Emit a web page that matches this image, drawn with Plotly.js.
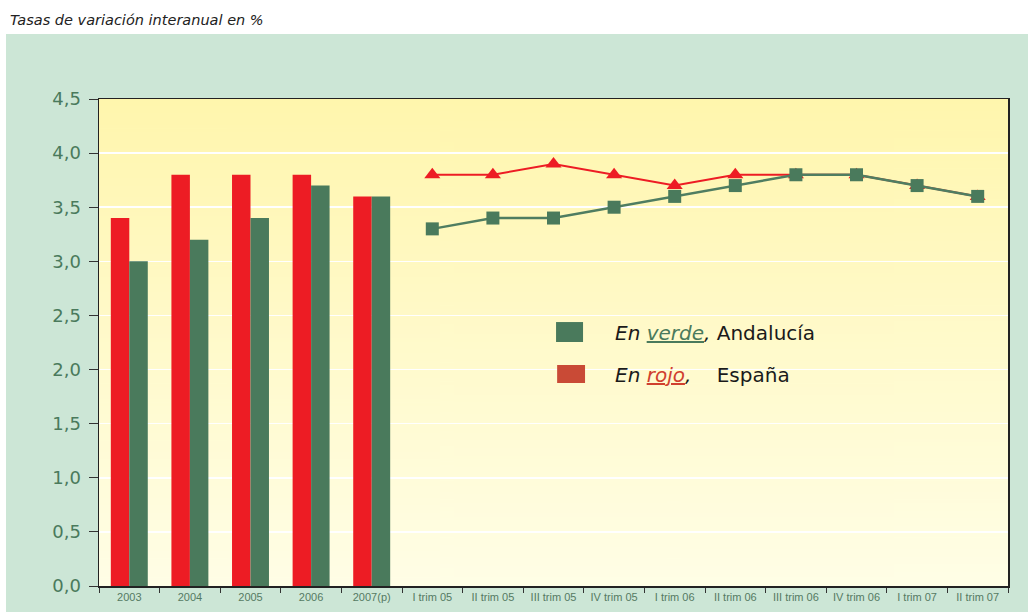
<!DOCTYPE html>
<html>
<head>
<meta charset="utf-8">
<script src="https://cdn.plot.ly/plotly-3.0.1.min.js"></script>
<style>
  html, body { margin: 0; padding: 0; background: #ffffff; }
  #wrap { position: relative; width: 1028px; height: 612px; overflow: hidden; }
  #greenbox { position: absolute; left: 6px; top: 34px; right: 0; bottom: 0; background: #cce6d6; }
  #chart { position: absolute; left: 0; top: 0; width: 1028px; height: 612px; }
</style>
</head>
<body>
<div id="wrap">
  <div id="greenbox"></div>
  <div id="chart"></div>
</div>
<script>
// ---- Data ----
const categories = ["2003", "2004", "2005", "2006", "2007(p)",
  "I trim 05", "II trim 05", "III trim 05", "IV trim 05",
  "I trim 06", "II trim 06", "III trim 06", "IV trim 06",
  "I trim 07", "II trim 07"];
const years = ["2003", "2004", "2005", "2006", "2007(p)"];
const quarters = ["I trim 05", "II trim 05", "III trim 05", "IV trim 05",
  "I trim 06", "II trim 06", "III trim 06", "IV trim 06",
  "I trim 07", "II trim 07"];
const espanaYears = [3.4, 3.8, 3.8, 3.8, 3.6];
const andaluciaYears = [3.0, 3.2, 3.4, 3.7, 3.6];
const espanaQuarters = [3.8, 3.8, 3.9, 3.8, 3.7, 3.8, 3.8, 3.8, 3.7, 3.6];
const andaluciaQuarters = [3.3, 3.4, 3.4, 3.5, 3.6, 3.7, 3.8, 3.8, 3.7, 3.6];

const RED = "#ed1c24";
const GREEN = "#4a7a5c";
const TICKGREEN = "#4a7a5c";
const WIDE = "DejaVu Sans, Verdana, sans-serif";
const NARROW = "Liberation Sans, Arial, sans-serif";

// gradient background for the plot area
const cv = document.createElement("canvas");
cv.width = 4; cv.height = 256;
const ctx = cv.getContext("2d");
const g = ctx.createLinearGradient(0, 0, 0, 256);
g.addColorStop(0, "#fff6ad");
g.addColorStop(0.5, "#fffacb");
g.addColorStop(1, "#fffee6");
ctx.fillStyle = g;
ctx.fillRect(0, 0, 4, 256);
const bgURL = cv.toDataURL("image/png");

const traces = [
  { type: "bar", x: years, y: espanaYears, name: "España",
    marker: { color: RED }, hoverinfo: "skip" },
  { type: "bar", x: years, y: andaluciaYears, name: "Andalucía",
    marker: { color: GREEN }, hoverinfo: "skip" },
  { type: "scatter", mode: "lines+markers", x: quarters, y: espanaQuarters,
    line: { color: RED, width: 2 },
    marker: { symbol: "triangle-up", size: 14, color: RED }, hoverinfo: "skip" },
  { type: "scatter", mode: "lines+markers", x: quarters, y: andaluciaQuarters,
    line: { color: "#4f7d61", width: 2.5 },
    marker: { symbol: "square", size: 13, color: GREEN }, hoverinfo: "skip" }
];

const layout = {
  width: 1028, height: 612,
  margin: { l: 99, r: 20, t: 99, b: 26 },
  paper_bgcolor: "rgba(0,0,0,0)",
  plot_bgcolor: "rgba(0,0,0,0)",
  separators: ",.",
  showlegend: false,
  barmode: "group",
  bargap: 0.39,
  bargroupgap: 0,
  font: { family: NARROW },
  title: {
    text: "<i>Tasas de variación interanual en %</i>",
    font: { size: 14.5, color: "#222222", family: WIDE },
    xref: "container", yref: "container",
    x: 10 / 1028, xanchor: "left",
    y: 1 - 20 / 612, yanchor: "middle"
  },
  xaxis: {
    type: "category",
    categoryorder: "array",
    categoryarray: categories,
    range: [-0.5, categories.length - 0.5],
    tickson: "boundaries",
    ticks: "outside", ticklen: 5, tickwidth: 1, tickcolor: "#333333",
    showgrid: false, zeroline: false,
    showline: true, linecolor: "#222222", linewidth: 1.5, mirror: true,
    tickfont: { size: 11, color: "#557a63", family: NARROW },
    fixedrange: true
  },
  yaxis: {
    range: [0, 4.5],
    dtick: 0.5, tick0: 0,
    tickformat: ".1f",
    ticks: "outside", ticklen: 9, tickwidth: 1, tickcolor: "#333333",
    showgrid: true, gridcolor: "#ffffff", gridwidth: 1.5,
    zeroline: false,
    showline: true, linecolor: "#222222", linewidth: 1.5, mirror: true,
    tickfont: { size: 18, color: TICKGREEN, family: WIDE },
    ticklabelstandoff: 4,
    fixedrange: true
  },
  images: [{
    source: bgURL, xref: "paper", yref: "paper",
    x: 0, y: 1, sizex: 1, sizey: 1, sizing: "stretch",
    xanchor: "left", yanchor: "top", layer: "below"
  }],
  shapes: [
    { type: "rect", xref: "paper", yref: "paper",
      x0: 0.5028, x1: 0.5325, y0: 0.501, y1: 0.542,
      fillcolor: GREEN, line: { width: 0 } },
    { type: "rect", xref: "paper", yref: "paper",
      x0: 0.504, x1: 0.5347, y0: 0.4168, y1: 0.4538,
      fillcolor: "#c94a36", line: { width: 0 } }
  ],
  annotations: [
    { xref: "paper", yref: "paper", x: 0.5655, y: 0.5195,
      xanchor: "left", yanchor: "middle", showarrow: false,
      text: "<i>En</i> <span style=\"color:#4a7a5c\"><i><u>verde</u></i></span><i>,</i> Andalucía",
      font: { size: 20, color: "#1a1a1a", family: WIDE } },
    { xref: "paper", yref: "paper", x: 0.5655, y: 0.4333,
      xanchor: "left", yanchor: "middle", showarrow: false,
      text: "<i>En</i> <span style=\"color:#d0402e\"><i><u>rojo</u></i></span><i>,</i>\u00a0\u00a0\u00a0\u00a0España",
      font: { size: 20, color: "#1a1a1a", family: WIDE } }
  ]
};

Plotly.newPlot("chart", traces, layout, { staticPlot: true, displayModeBar: false });
</script>
</body>
</html>
